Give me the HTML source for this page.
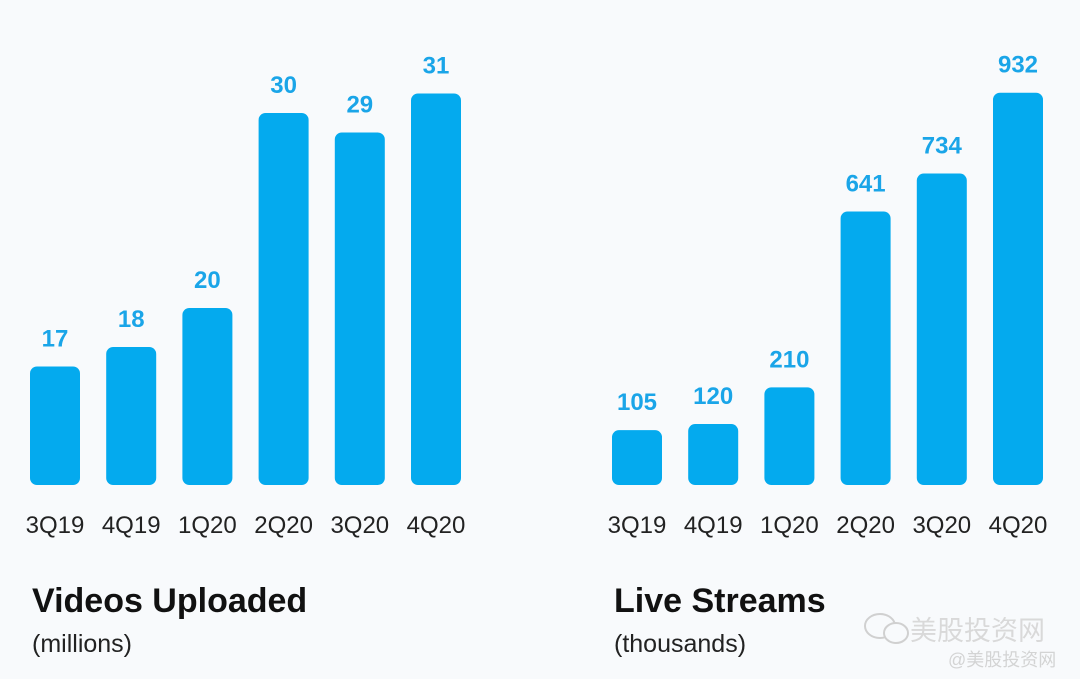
<!DOCTYPE html>
<html><head><meta charset="utf-8"><style>
html,body{margin:0;padding:0;background:#f8fafc;}
svg{display:block;font-family:"Liberation Sans","Noto Sans CJK SC",sans-serif;}
</style></head><body>
<svg id="chart" width="1080" height="679" viewBox="0 0 1080 679">
<rect width="1080" height="679" fill="#f8fafc"/>
<g id="left"></g>
<g id="right"></g>
<text x="32" y="612" font-size="34" font-weight="bold" fill="#111">Videos Uploaded</text>
<text x="32" y="652" font-size="25" fill="#222">(millions)</text>
<text x="614" y="612" font-size="34" font-weight="bold" fill="#111">Live Streams</text>
<text x="614" y="652" font-size="25" fill="#222">(thousands)</text>
<g opacity="0.9">
<text x="910" y="640" font-size="27" fill="#d6d6d6">美股投资网</text>
<text x="948" y="666" font-size="18" fill="#d0d0d0">@美股投资网</text>
<ellipse cx="880" cy="626" rx="15" ry="12" fill="none" stroke="#ccc" stroke-width="2"/>
<ellipse cx="896" cy="633" rx="12" ry="10" fill="#f8fafc" stroke="#ccc" stroke-width="2"/>
</g>
</svg>
<script>
const categories = ["3Q19","4Q19","1Q20","2Q20","3Q20","4Q20"];
const videosValues = [17,18,20,30,29,31];
const streamsValues = [105,120,210,641,734,932];
const NS = "http://www.w3.org/2000/svg";
function draw(gid, values, x0, step, slope, intercept){
  const g = document.getElementById(gid);
  const base = 485, bw = 50;
  values.forEach((v,i)=>{
    const h = Math.max(10, slope*v + intercept);
    const x = x0 + i*step;
    const r = document.createElementNS(NS,"rect");
    r.setAttribute("x",x); r.setAttribute("y",base-h);
    r.setAttribute("width",bw); r.setAttribute("height",h);
    r.setAttribute("rx",7); r.setAttribute("fill","#04aaee");
    
    
    g.appendChild(r);
    const t = document.createElementNS(NS,"text");
    t.setAttribute("x",x+bw/2); t.setAttribute("y",base-h-20);
    t.setAttribute("text-anchor","middle"); t.setAttribute("font-size","24");
    t.setAttribute("font-weight","bold"); t.setAttribute("fill","#1aa5e8");
    t.textContent = v;
    
    
    g.appendChild(t);
    const c = document.createElementNS(NS,"text");
    c.setAttribute("x",x+bw/2); c.setAttribute("y",533);
    c.setAttribute("text-anchor","middle"); c.setAttribute("font-size","24");
    c.setAttribute("fill","#222");
    c.textContent = categories[i];
    
    
    g.appendChild(c);
  });
}
draw("left", videosValues, 30, 76.2, 19.5, -213);
draw("right", streamsValues, 612, 76.2, 0.408, 12);
</script>
</body></html>
